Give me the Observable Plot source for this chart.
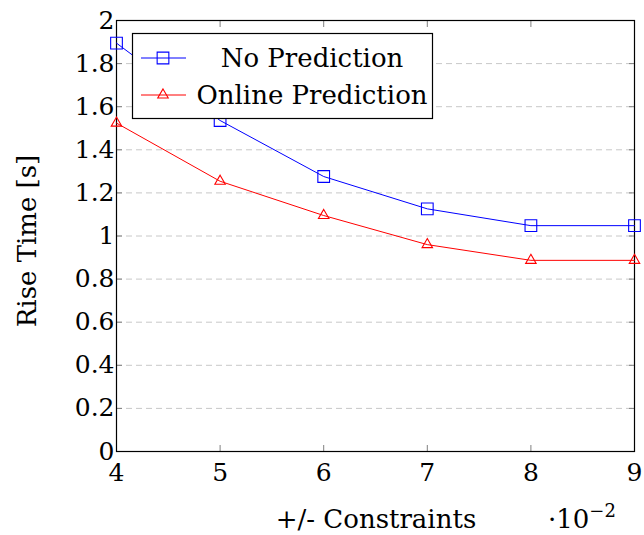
<!DOCTYPE html>
<html>
<head>
<meta charset="utf-8">
<script src="https://cdn.jsdelivr.net/npm/d3@7"></script>
<script src="https://cdn.jsdelivr.net/npm/@observablehq/plot@0.6"></script>
<style>
  html, body { margin: 0; padding: 0; background: #fff; }
  #chart { position: relative; width: 644px; height: 535px; }
  #chart svg, #chart svg text { font-family: "DejaVu Serif", "Liberation Serif", serif !important; }
</style>
</head>
<body>
<div id="chart"></div>
<script>
// Constraint levels (in units of 10^-2)
const constraints = [4, 5, 6, 7, 8, 9];
// Rise time [s] for each controller variant
const noPrediction = [1.895, 1.536, 1.276, 1.126, 1.048, 1.048];
const onlinePrediction = [1.524, 1.254, 1.095, 0.960, 0.887, 0.887];
const yTicks = [0, 0.2, 0.4, 0.6, 0.8, 1, 1.2, 1.4, 1.6, 1.8, 2];
const xTicks = [4, 5, 6, 7, 8, 9];
const seriesNames = ["No Prediction", "Online Prediction"];

const rowsA = constraints.map((c, i) => ({x: c, y: noPrediction[i], s: seriesNames[0]}));
const rowsB = constraints.map((c, i) => ({x: c, y: onlinePrediction[i], s: seriesNames[1]}));
const gridTicks = yTicks.filter(v => v > 0 && v < 2);
const FS = 25;   // tick labels
const TS = 26;   // titles and legend

const plot = Plot.plot({
  width: 644,
  height: 535,
  marginLeft: 116,
  marginRight: 10,
  marginTop: 20,
  marginBottom: 84,
  style: {fontFamily: "'DejaVu Serif', serif", fontSize: FS + "px", color: "#000", background: "#fff"},
  x: {domain: [4, 9]},
  y: {domain: [0, 2]},
  marks: [
    Plot.ruleY(gridTicks, {stroke: "#c8c8c8", strokeWidth: 1, strokeDasharray: "6,4"}),
    Plot.axisY(yTicks, {anchor: "left", tickSize: -6, tickPadding: 8, stroke: "#808080", label: null, tickFormat: d => String(d), fontSize: FS}),
    Plot.axisY(yTicks, {anchor: "right", tickSize: -6, stroke: "#808080", label: null, text: null}),
    Plot.axisX(xTicks, {anchor: "bottom", tickSize: -6, tickPadding: 18, stroke: "#808080", label: null, tickFormat: d => String(d), fontSize: FS}),
    Plot.axisX(xTicks, {anchor: "top", tickSize: -6, stroke: "#808080", label: null, text: null}),
    Plot.frame({stroke: "#000", strokeWidth: 1.2}),
    Plot.line(rowsA, {x: "x", y: "y", stroke: "#0000ff", strokeWidth: 1}),
    Plot.dot(rowsA, {x: "x", y: "y", symbol: "square", r: 6.6, stroke: "#0000ff", strokeWidth: 1.1, fill: "none"}),
    Plot.line(rowsB, {x: "x", y: "y", stroke: "#ff0000", strokeWidth: 1}),
    Plot.dot(rowsB, {x: "x", y: "y", symbol: "triangle", r: 3.9, stroke: "#ff0000", strokeWidth: 1.1, fill: "none"})
  ]
});

document.getElementById("chart").appendChild(plot);

// Axis titles and legend drawn in the same SVG
const svg = d3.select(plot);
svg.append("text")
  .attr("transform", "translate(36,241) rotate(-90)")
  .attr("text-anchor", "middle")
  .attr("font-size", TS)
  .text("Rise Time [s]");
svg.append("text")
  .attr("x", 376).attr("y", 528)
  .attr("text-anchor", "middle")
  .attr("font-size", TS)
  .text("+/- Constraints");
const sci = svg.append("text").attr("x", 548).attr("y", 528)
  .attr("text-anchor", "start").attr("font-size", TS);
sci.append("tspan").text("\u00b710");
sci.append("tspan").attr("dy", -11).attr("font-size", 18).text("\u22122");

const lg = svg.append("g");
lg.append("rect").attr("x", 132.5).attr("y", 33.5).attr("width", 300).attr("height", 85)
  .attr("fill", "#fff").attr("stroke", "#000").attr("stroke-width", 1.2);
const entries = [
  {name: seriesNames[0], color: "#0000ff", sym: d3.symbolSquare, size: Math.PI * 6.6 * 6.6, y: 58},
  {name: seriesNames[1], color: "#ff0000", sym: d3.symbolTriangle, size: Math.PI * 3.9 * 3.9, y: 95}
];
entries.forEach(e => {
  lg.append("line").attr("x1", 141).attr("x2", 186).attr("y1", e.y).attr("y2", e.y)
    .attr("stroke", e.color).attr("stroke-width", 1);
  lg.append("path").attr("d", d3.symbol(e.sym, e.size)())
    .attr("transform", `translate(163,${e.y})`)
    .attr("fill", "none").attr("stroke", e.color).attr("stroke-width", 1.1);
  lg.append("text").attr("x", 312).attr("y", e.y + 9).attr("text-anchor", "middle")
    .attr("font-size", TS).text(e.name);
});
</script>
</body>
</html>
